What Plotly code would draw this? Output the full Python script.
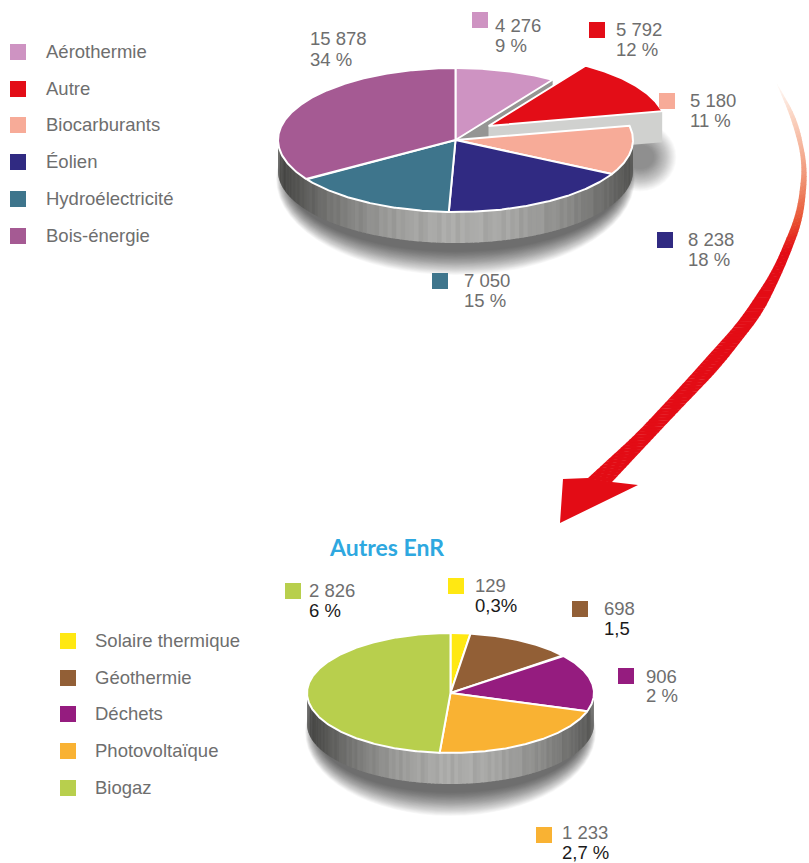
import numpy as np
import plotly.graph_objects as go

# ---- data ----
main_categories = ["Aérothermie", "Autre", "Biocarburants", "Éolien", "Hydroélectricité", "Bois-énergie"]
main_values = [4276, 5792, 5180, 8238, 7050, 15878]
main_shares = ["9 %", "12 %", "11 %", "18 %", "15 %", "34 %"]
main_colors = ["#ce93c2", "#e30d17", "#f7ab98", "#302a82", "#3e758c", "#a55a93"]

other_title = "Autres EnR"
other_categories = ["Solaire thermique", "Géothermie", "Déchets", "Photovoltaïque", "Biogaz"]
other_values = [129, 698, 906, 1233, 2826]
other_shares = ["0,3%", "1,5", "2 %", "2,7 %", "6 %"]
other_colors = ["#ffe812", "#925f36", "#951c7f", "#f9b233", "#b8cf4d"]

# ---- layout constants (pixels of the 809x863 page) ----
GREY = "#6e6e6e"
BLACK = "#1a1a1a"
FONT = "Arial, 'Liberation Sans', sans-serif"
SIZE = 18.5
main_geo = dict(cx=455.5, cy=140, rx=177.5, ry=72, h=31)
other_geo = dict(cx=450.5, cy=693, rx=143.5, ry=60, h=31)
EXPLODE = (33, -14)

main_label_pos = [  # square x, square y, text x, line-1 y, line-2 y
    (480, 20, 493, 25.5, 45.5), (597, 30, 614, 29.5, 49.5), (667, 101, 688, 100.5, 120.5),
    (665, 240, 686, 239.5, 259.5), (440, 281, 462, 280.5, 300.5), (None, None, 308, 38.5, 59.5)]
other_label_pos = [
    (456, 586, 473, 585.5, 605.5), (580, 609, 602, 608.5, 628.5), (626, 676, 644, 676.5, 695.5),
    (544, 835, 560, 833, 853), (293, 591, 307, 590.5, 610.5)]
other_share_colors = [BLACK, BLACK, GREY, BLACK, BLACK]
main_legend_y = [52, 89, 125, 162, 199, 236]
other_legend_y = [641, 678, 714, 751, 788]
TEXT_DY = -0.5


def fmt(v):
    return f"{v:,}".replace(",", " ")


def cum_angles(vals):
    c = np.cumsum([0] + list(vals), dtype=float)
    return c / c[-1] * 360


def ell(g, deg, dx=0, dy=0):
    t = np.radians(deg)
    return g["cx"] + dx + g["rx"] * np.sin(t), g["cy"] + dy - g["ry"] * np.cos(t)


def wedge(g, a0, a1, dx=0, dy=0):
    deg = np.linspace(a0, a1, max(int(a1 - a0) * 2, 4))
    x, y = ell(g, deg, dx, dy)
    return np.r_[g["cx"] + dx, x, g["cx"] + dx], np.r_[g["cy"] + dy, y, g["cy"] + dy]


def poly(xs, ys):
    return "M" + " L".join(f"{x:.2f} {y:.2f}" for x, y in zip(xs, ys)) + " Z"


shapes = []


def add_poly(xs, ys, fill, line=None, lw=0):
    shapes.append(dict(type="path", path=poly(xs, ys), fillcolor=fill, layer="below",
                       line=dict(color=line or fill, width=lw)))


def add_shadow(cx, cy, rx, ry, n=32, step=0.75, alpha=0.024, xgrow=0.5):
    for i in range(n):
        e = (n - i) * step
        shapes.append(dict(type="circle", x0=cx - rx - e * xgrow, x1=cx + rx + e * xgrow,
                           y0=cy - ry - e, y1=cy + ry + e, layer="below",
                           fillcolor=f"rgba(0,0,0,{alpha})", line=dict(width=0)))


STRIPES = [0, -4, 3, -7, 4, -2, 5, -5, 1, 3, -3, -8, 4, 1]


def add_side(g):
    step = 1.5
    angs = np.arange(90, 270, step)
    for i, a in enumerate(angs):
        deg = np.linspace(a, a + step + 0.3, 3)
        x, y = ell(g, deg)
        u = (np.mean(x) - (g["cx"] + 8)) / g["rx"]
        b = 74 + 98 * (1 - min(abs(u), 1) ** 2.0) + STRIPES[i % len(STRIPES)] * (1 - abs(u) * 0.5)
        b = int(np.clip(b, 60, 190))
        add_poly(np.r_[x, x[::-1]], np.r_[y, y[::-1] + g["h"]], f"rgb({b},{b},{max(b-2,0)})")


# shadows + side walls
add_shadow(main_geo["cx"], main_geo["cy"] + main_geo["h"] + 8, main_geo["rx"] - 10, main_geo["ry"])
add_shadow(640, 157, 13, 11, n=26, step=0.9, alpha=0.02, xgrow=1.0)
add_shadow(other_geo["cx"], other_geo["cy"] + other_geo["h"] + 8, other_geo["rx"] - 10, other_geo["ry"])
add_side(main_geo)
add_side(other_geo)

ma = cum_angles(main_values)
oa = cum_angles(other_values)

# cut face left open by the pulled-out slice
ex, ey = ell(main_geo, ma[1])
cx, cy, h = main_geo["cx"], main_geo["cy"], main_geo["h"]
add_poly([cx, ex, ex, cx], [cy, ey, ey + h, cy + h], "#959593")
# radial face of the pulled-out slice
ex2, ey2 = ell(main_geo, ma[2], *EXPLODE)
ax, ay = cx + EXPLODE[0], cy + EXPLODE[1]
add_poly([ax, ex2, ex2, ax], [ay, ey2, ey2 + h, ay + h], "#d0d1cf")

fig = go.Figure()


def add_slice(g, a0, a1, color, name, val, dx=0, dy=0):
    x, y = wedge(g, a0, a1, dx, dy)
    fig.add_trace(go.Scatter(x=x, y=y, mode="lines", fill="toself", fillcolor=color,
                             line=dict(color="white", width=2), name=name, showlegend=False,
                             hoverinfo="text", text=f"{name}: {fmt(val)}"))


for i, (n, v, c) in enumerate(zip(main_categories, main_values, main_colors)):
    if n != "Autre":
        add_slice(main_geo, ma[i], ma[i + 1], c, n, v)
add_slice(main_geo, ma[1], ma[2], main_colors[1], "Autre", main_values[1], *EXPLODE)
for i, (n, v, c) in enumerate(zip(other_categories, other_values, other_colors)):
    add_slice(other_geo, oa[i], oa[i + 1], c, n, v)


# ---- curved arrow (decoration): traced outline, resampled and smoothed ----
def smooth(p, n=120, win=25):
    p = np.array(p, float)
    s = np.r_[0, np.cumsum(np.hypot(*np.diff(p, axis=0).T))]
    t = np.linspace(0, s[-1], 600)
    xy = np.c_[np.interp(t, s, p[:, 0]), np.interp(t, s, p[:, 1])]
    out = xy.copy()
    for i in range(600):
        w = min(win, i, 599 - i)
        out[i] = xy[i - w:i + w + 1].mean(axis=0)
    return out[np.linspace(0, 599, n).astype(int)]


inner = smooth([(775, 80), (792, 120), (803, 163), (797, 213), (773, 270), (740, 320), (680, 387), (637, 433), (588, 478)])
outer = smooth([(775, 80), (798, 120), (808, 170), (803, 220), (785, 267), (763, 313), (720, 368), (673, 417), (642, 450), (612, 482)])
grad_y = [80, 113, 180, 220, 250]
grad_rgb = np.array([[255, 255, 255], [251, 214, 197], [240, 144, 112], [232, 80, 48], [227, 12, 21]], float)
for i in range(len(inner) - 1):
    ymid = (inner[i][1] + outer[i][1]) / 2
    col = [int(np.interp(ymid, grad_y, grad_rgb[:, k])) for k in range(3)]
    q = np.array([inner[i], inner[i + 1] + (inner[i + 1] - inner[i]) * 0.15,
                  outer[i + 1] + (outer[i + 1] - outer[i]) * 0.15, outer[i]])
    add_poly(q[:, 0], q[:, 1], f"rgb({col[0]},{col[1]},{col[2]})")
add_poly([563, 560, 638, 612, 588], [479, 523, 485, 482, 478], "#e30c15")

# ---- text and squares ----
ann = []


def text(x, y, s, color=GREY, size=SIZE, anchor="left", family=FONT, bold=False):
    ann.append(dict(x=x, y=y + TEXT_DY, text=f"<b>{s}</b>" if bold else s, showarrow=False, xanchor=anchor, yanchor="middle",
                    xref="x", yref="y", font=dict(family=family, size=size, color=color)))


def squares(xs, ys, colors, names):
    fig.add_trace(go.Scatter(x=xs, y=ys, mode="markers", showlegend=False, hoverinfo="text", text=names,
                             marker=dict(symbol="square", size=16, color=colors, line=dict(width=0))))


squares([18] * 6, main_legend_y, main_colors, main_categories)
for n, y in zip(main_categories, main_legend_y):
    text(44, y - 0.5, n)
squares([68] * 5, other_legend_y, other_colors, other_categories)
for n, y in zip(other_categories, other_legend_y):
    text(93, y - 0.5, n)

mp = [p for p in main_label_pos if p[0] is not None]
squares([p[0] for p in mp], [p[1] for p in mp],
        [c for c, p in zip(main_colors, main_label_pos) if p[0] is not None],
        [c for c, p in zip(main_categories, main_label_pos) if p[0] is not None])
for v, s, p in zip(main_values, main_shares, main_label_pos):
    text(p[2], p[3], fmt(v))
    text(p[2], p[4], s)

squares([p[0] for p in other_label_pos], [p[1] for p in other_label_pos], other_colors, other_categories)
for v, s, p, c in zip(other_values, other_shares, other_label_pos, other_share_colors):
    text(p[2], p[3], fmt(v))
    text(p[2], p[4], s, color=c)

text(386, 547, other_title, color="#2ea8e0", size=23, anchor="center", family="Lato", bold=True)

fig.update_layout(
    width=809, height=863, margin=dict(l=0, r=0, t=0, b=0),
    paper_bgcolor="white", plot_bgcolor="white", showlegend=False,
    xaxis=dict(range=[0, 809], visible=False, fixedrange=True),
    yaxis=dict(range=[863, 0], visible=False, fixedrange=True),
    shapes=shapes, annotations=ann)

fig.write_html("out.html", config=dict(displayModeBar=False),
               post_script="document.body.style.margin='0';document.body.style.overflow='hidden';")
